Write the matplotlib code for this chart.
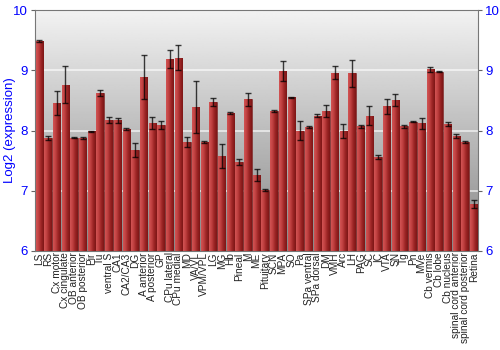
import matplotlib
matplotlib.use("Agg")
import matplotlib.pyplot as plt
import numpy as np

plt.rcParams["font.family"] = ["Liberation Sans", "DejaVu Sans"]

# regions and log2 expression (mean, error)
regions = ["LS", "RS", "Cx motor", "Cx cingulate", "OB anterior", "OB posterior",
           "Pir", "Tu", "ventral S", "CA1", "CA2/CA3", "DG", "A anterior",
           "A posterior", "GP", "CPu lateral", "CPu medial", "MD", "VA/VL",
           "VPM/VPL", "LG", "MG", "Hb", "Pineal", "M", "ME", "Pituitary", "SCN",
           "MPA", "SO", "Pa", "SPa ventral", "SPa dorsal", "DM", "VMH", "Arc",
           "LH", "PAG", "SC", "IC", "VTA", "SN", "Tg", "Pn", "MVe", "Cb vermis",
           "Cb lobe", "Cb nucleus", "spinal cord anterior",
           "spinal cord posterior", "Retina"]
values = [9.49, 7.88, 8.45, 8.76, 7.88, 7.88, 7.99, 8.63, 8.17, 8.17, 8.03,
          7.68, 8.89, 8.12, 8.09, 9.19, 9.21, 7.81, 8.39, 7.81, 8.47, 7.58,
          8.29, 7.48, 8.52, 7.26, 7.01, 8.32, 8.99, 8.55, 8.00, 8.06, 8.25,
          8.32, 8.96, 7.99, 8.95, 8.07, 8.25, 7.56, 8.40, 8.51, 8.07, 8.15,
          8.12, 9.02, 8.98, 8.11, 7.91, 7.81, 6.78]
errors = [0.02, 0.03, 0.20, 0.31, 0.01, 0.02, 0.01, 0.05, 0.05, 0.04, 0.02,
          0.12, 0.37, 0.10, 0.07, 0.15, 0.21, 0.09, 0.43, 0.01, 0.07, 0.20,
          0.02, 0.05, 0.11, 0.10, 0.02, 0.02, 0.17, 0.01, 0.16, 0.02, 0.02,
          0.10, 0.11, 0.12, 0.22, 0.02, 0.15, 0.03, 0.12, 0.10, 0.03, 0.01,
          0.09, 0.04, 0.015, 0.04, 0.04, 0.02, 0.06]
yticks = [6, 7, 8, 9, 10]

blue = "#0000ff"
fig = plt.figure(figsize=(5, 3.5), dpi=100)
ax = fig.add_axes([0.07, 0.283, 0.886, 0.688])

x = np.arange(len(regions))
ymin, ymax = 6, 10
ax.set_xlim(-0.5, len(regions) - 0.5)
ax.set_ylim(ymin, ymax)

# grey gradient background
bg = np.linspace(0.53, 0.95, 256).reshape(-1, 1)
ax.imshow(bg, cmap="gray", vmin=0, vmax=1, origin="lower", aspect="auto",
          extent=(-0.5, len(regions) - 0.5, ymin, ymax), zorder=0)

for yv in [7, 8, 9]:
    ax.axhline(yv, color="white", lw=1.2, alpha=0.7, zorder=1)

bars = ax.bar(x, [v - ymin for v in values], bottom=ymin, width=0.85,
              color="#b03030", edgecolor="#6a1a1a", lw=0.4, zorder=2)

# horizontal red gradient inside every bar
grad = np.linspace(0, 1, 64).reshape(1, -1)
cm = matplotlib.colors.LinearSegmentedColormap.from_list(
    "barred", ["#d25454", "#c04040", "#9a2424", "#7c1616"])
for b in bars:
    x0, w = b.get_x(), b.get_width()
    im = ax.imshow(grad, cmap=cm, aspect="auto", zorder=3,
                   extent=(x0, x0 + w, ymin, ymin + b.get_height()))
    im.set_clip_path(b)

ax.errorbar(x, values, yerr=errors, fmt="none", ecolor="black", elinewidth=1,
            capsize=2.2, capthick=1, alpha=0.75, zorder=4)

ax.set_xticks(x)
ax.set_xticklabels(regions, rotation=90, fontsize=7.3, color="#222222")
ax.tick_params(axis="x", length=0, pad=1)

ax.set_yticks(yticks)
ax.tick_params(axis="y", colors="#666666", labelcolor=blue, labelsize=9.5,
               length=3, pad=2, left=True, right=True, labelleft=True,
               labelright=True)
ax.set_ylabel("Log2 (expression)", color=blue, fontsize=9.5)
ax.yaxis.set_label_coords(-0.042, 0.5)

for s in ax.spines.values():
    s.set_color("#777777")
    s.set_linewidth(0.8)

fig.savefig("out.png", dpi=100)
